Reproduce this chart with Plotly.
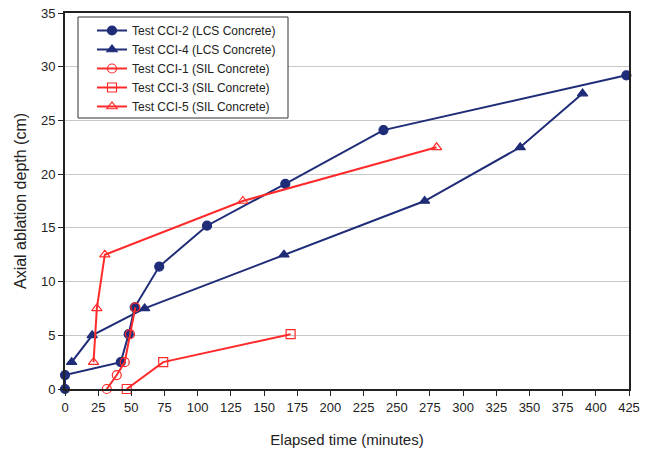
import plotly.graph_objects as go

cci2_x = [0, 0, 42, 48, 52.5, 71, 107, 166, 240, 423]
cci2_y = [0, 1.3, 2.5, 5.1, 7.6, 11.4, 15.2, 19.1, 24.1, 29.2]
cci4_x = [5, 20.5, 60, 165, 271, 343, 390]
cci4_y = [2.5, 5.0, 7.5, 12.5, 17.5, 22.5, 27.5]
cci1_x = [31.5, 39, 45, 49, 53]
cci1_y = [0, 1.3, 2.5, 5.1, 7.6]
cci3_x = [46.5, 74, 170]
cci3_y = [0, 2.5, 5.1]
cci5_x = [21.5, 24, 30, 134, 280]
cci5_y = [2.5, 7.5, 12.5, 17.5, 22.5]

navy = "#1f2c78"
red = "#ff2a2a"

fig = go.Figure()
series = [
    ("Test CCI-2 (LCS Concrete)", cci2_x, cci2_y, navy, "circle"),
    ("Test CCI-4 (LCS Concrete)", cci4_x, cci4_y, navy, "triangle-up"),
    ("Test CCI-1 (SIL Concrete)", cci1_x, cci1_y, red, "circle-open"),
    ("Test CCI-3 (SIL Concrete)", cci3_x, cci3_y, red, "square-open"),
    ("Test CCI-5 (SIL Concrete)", cci5_x, cci5_y, red, "triangle-up-open"),
]
for name, x, y, c, sym in series:
    fig.add_trace(go.Scatter(
        x=x, y=y, name=name, mode="lines+markers",
        line=dict(color=c, width=2),
        marker=dict(symbol=sym, size=9, color=c, line=dict(color=c, width=1.2)),
        cliponaxis=False,
    ))

L, R, T, B = 65, 629, 13, 389
W, H = R - L, B - T

# legend frame
fig.add_shape(type="rect", xref="paper", yref="paper",
              x0=(78 - L) / W, x1=(288 - L) / W,
              y0=(B - 118) / H, y1=(B - 17) / H,
              line=dict(color="#333", width=1), fillcolor="white", layer="above")

fig.update_layout(
    width=657, height=449,
    margin=dict(l=L, r=657 - R, t=T, b=449 - B, autoexpand=False),
    paper_bgcolor="white", plot_bgcolor="white",
    font=dict(family="Liberation Sans, Arial, sans-serif", size=13, color="#222"),
    showlegend=True,
    legend=dict(x=(92 - L) / W, y=(B - 16) / H, xanchor="left", yanchor="top",
                bgcolor="rgba(0,0,0,0)", borderwidth=0,
                font=dict(size=12), itemwidth=30, tracegroupgap=0),
)
fig.update_xaxes(
    range=[0, 425], dtick=25, tick0=0, automargin=False,
    showgrid=False, zeroline=False,
    showline=True, linecolor="#222", linewidth=2, mirror=True,
    ticks="outside", ticklen=5, tickcolor="#222",
    title=dict(text="Elapsed time (minutes)", font=dict(size=15), standoff=21),
)
fig.update_yaxes(
    range=[0, 35], dtick=5, tick0=0, automargin=False,
    showgrid=True, gridcolor="#c8c8c8", gridwidth=1, zeroline=False,
    showline=True, linecolor="#222", linewidth=2, mirror=True,
    ticks="outside", ticklen=5, tickcolor="#222",
    title=dict(text="Axial ablation depth (cm)", font=dict(size=16), standoff=10),
)
fig.write_html("out.html", config={"displayModeBar": False},
               post_script="document.body.style.margin='0px';")
